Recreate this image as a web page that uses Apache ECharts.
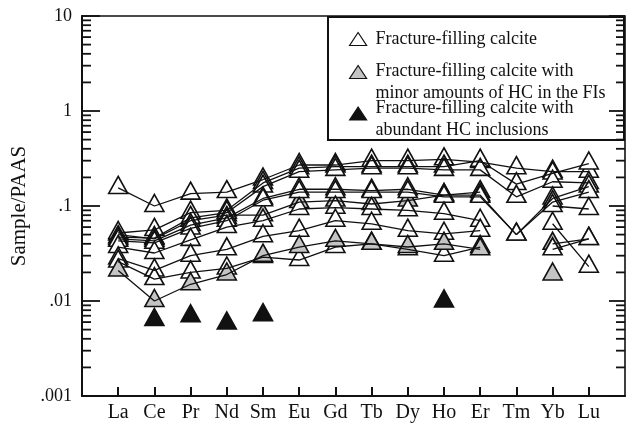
<!DOCTYPE html>
<html><head><meta charset="utf-8">
<script src="https://cdn.jsdelivr.net/npm/echarts@6/dist/echarts.min.js"></script>
<style>html,body{margin:0;padding:0;background:#fff}#c{width:627px;height:423px}</style>
</head><body><div id="c"></div>
<script>
const categories = ['La','Ce','Pr','Nd','Sm','Eu','Gd','Tb','Dy','Ho','Er','Tm','Yb','Lu'];
const yTickValues = [0.001, 0.01, 0.1, 1, 10];
const yTickLabels = ['.001', '.01', '.1', '1', '10'];
const yMinorMultipliers = [2, 3, 4, 5, 6, 7, 8, 9];

const nameWhite = 'Fracture-filling calcite';
const nameGray = 'Fracture-filling calcite with\nminor amounts of HC in the FIs';
const nameBlack = 'Fracture-filling calcite with\nabundant HC inclusions';

// Fracture-filling calcite (white)
const white1 = [0.155, 0.10, 0.135, 0.14, 0.19, 0.27, 0.27, 0.30, 0.30, 0.31, 0.29, 0.25, 0.23, 0.23];
const white2 = [0.052, 0.056, 0.085, 0.09, 0.175, 0.25, 0.26, 0.26, 0.26, 0.26, 0.30, 0.17, 0.22, 0.28];
const white3 = [0.047, 0.046, 0.075, 0.085, 0.16, 0.23, 0.24, 0.25, 0.25, 0.24, 0.24, 0.125, 0.18, 0.175];
const white4 = [0.045, 0.043, 0.063, 0.075, 0.12, 0.15, 0.15, 0.145, 0.15, 0.13, 0.13, 0.05, 0.12, 0.16];
const white5 = [0.043, 0.041, 0.058, 0.07, 0.115, 0.14, 0.14, 0.14, 0.14, 0.125, 0.125, 0.05, 0.11, 0.14];
const white6 = [0.037, 0.032, 0.044, 0.06, 0.07, 0.093, 0.096, 0.093, 0.09, 0.083, 0.07, null, 0.065, 0.023];
const white7 = [0.028, 0.021, 0.03, 0.035, 0.048, 0.055, 0.07, 0.065, 0.055, 0.051, 0.055, null, 0.10, 0.093];
const white8 = [0.026, 0.017, 0.02, 0.022, 0.029, 0.027, 0.037, 0.04, 0.035, 0.030, 0.037, null, 0.035, 0.045];
// with minor amounts of HC (gray)
const gray1 = [0.05, 0.045, 0.07, 0.08, 0.08, 0.11, 0.114, 0.105, 0.114, 0.13, 0.14, null, 0.04, 0.045];
const gray2 = [0.021, 0.01, 0.015, 0.019, 0.03, 0.037, 0.043, 0.040, 0.037, 0.040, 0.035, null, 0.019, null];
// with abundant HC inclusions (black)
const black1 = [null, 0.0063, 0.0069, 0.0058, 0.0071, null, null, null, null, 0.0099, null, null, null, null];

const FONT = 'Liberation Serif';
const INK = '#111';
const GRAY = '#c4c4c4';
const X_MIN = 0, X_MAX = 15;

const xTicks = categories.map((c, i) => i + 1);

function yLabel(v) {
  let best = 0, bd = 1e9;
  yTickValues.forEach((t, i) => { const d = Math.abs(Math.log10(v) - Math.log10(t)); if (d < bd) { bd = d; best = i; } });
  return yTickLabels[best];
}

// drawing order of markers: upper gray under the white ones
const groups = [
  { vals: gray1, name: nameGray, fill: GRAY, line: true },
  { vals: white1, name: nameWhite, fill: '#fff', line: true },
  { vals: white2, name: nameWhite, fill: '#fff', line: true },
  { vals: white3, name: nameWhite, fill: '#fff', line: true },
  { vals: white4, name: nameWhite, fill: '#fff', line: true },
  { vals: white5, name: nameWhite, fill: '#fff', line: true },
  { vals: white6, name: nameWhite, fill: '#fff', line: true },
  { vals: white7, name: nameWhite, fill: '#fff', line: true },
  { vals: white8, name: nameWhite, fill: '#fff', line: true },
  { vals: gray2, name: nameGray, fill: GRAY, line: true },
  { vals: black1, name: nameBlack, fill: INK, line: false }
];

const series = [];
groups.forEach(g => {
  series.push({
    type: 'scatter', name: g.name, z: 2,
    symbol: 'triangle', symbolSize: [19, 17], symbolOffset: [0, -3],
    itemStyle: { color: g.fill, borderColor: INK, borderWidth: 1.6, opacity: 1 },
    data: g.vals.map((v, i) => v == null ? null : [i + 1, v]).filter(Boolean),
    emphasis: { disabled: true }, silent: true
  });
  if (g.line) {
    series.push({
      type: 'line', name: g.name, z: 3, symbol: 'none', connectNulls: false,
      lineStyle: { color: INK, width: 1.3 },
      itemStyle: { color: INK },
      data: g.vals.map((v, i) => [i + 1, v == null ? '-' : v]),
      emphasis: { disabled: true }, silent: true
    });
  }
});

// Y tick marks on both frame sides (inward), placed through the log axis scale
const tickData = [];
yTickValues.forEach(t => {
  tickData.push([X_MIN, t, 18]);
  tickData.push([X_MAX, t, 16]);
  if (t < 10) yMinorMultipliers.forEach(m => {
    const v = +(m * t).toPrecision(3);
    tickData.push([X_MIN, v, 9]);
    tickData.push([X_MAX, v, 9]);
  });
});
series.push({
  type: 'custom', z: 10, silent: true, clip: false,
  encode: { x: 0, y: 1 },
  data: tickData,
  renderItem: function (params, api) {
    const xv = api.value(0), yv = api.value(1), len = api.value(2);
    const p = api.coord([xv, yv]);
    const dir = xv > X_MIN ? -1 : 1;
    return {
      type: 'line',
      shape: { x1: p[0], y1: p[1], x2: p[0] + dir * len, y2: p[1] },
      style: { stroke: INK, lineWidth: 1.8 }
    };
  }
});

function richName(spacer) {
  return function (n) {
    const lines = n.split('\n').map(l => '{t|' + l + '}').join('\n');
    return spacer ? '{s| }\n' + lines : lines;
  };
}
function legendText(spacer) {
  return {
    fontFamily: FONT, fontSize: 18, color: INK, lineHeight: 22,
    rich: {
      t: { fontFamily: FONT, fontSize: 18, color: INK, lineHeight: 22, padding: [0, 0, 0, 4] },
      s: { fontSize: 2, lineHeight: spacer || 1 }
    }
  };
}
const legendBase = {
  orient: 'vertical', left: 349, icon: 'triangle', itemWidth: 17, itemHeight: 13,
  padding: 0, selectedMode: false
};

const option = {
  animation: false,
  backgroundColor: '#fff',
  grid: { left: 82, right: 2, top: 16, bottom: 26, show: true, borderColor: INK, borderWidth: 1.6 },
  xAxis: {
    type: 'value', min: X_MIN, max: X_MAX,
    axisLine: { onZero: false, lineStyle: { color: INK, width: 2 } },
    axisTick: { show: true, inside: true, length: 9, customValues: xTicks, lineStyle: { color: INK, width: 2 } },
    axisLabel: { customValues: xTicks, formatter: v => categories[Math.round(v) - 1] || '', fontFamily: FONT, fontSize: 20, color: INK, margin: 7 },
    splitLine: { show: false }
  },
  yAxis: {
    type: 'log', min: 0.001, max: 10, position: 'left',
    axisLine: { show: true, lineStyle: { color: INK, width: 2 } },
    axisTick: { show: false },
    axisLabel: { show: true, formatter: yLabel, fontFamily: FONT, fontSize: 18, color: INK, margin: 10 },
    splitLine: { show: false },
    name: 'Sample/PAAS', nameLocation: 'middle', nameGap: 52,
    nameTextStyle: { fontFamily: FONT, fontSize: 21, color: INK }
  },
  graphic: [{
    type: 'rect', z: 3, shape: { x: 328, y: 17, width: 296, height: 123 },
    style: { fill: '#fff', stroke: INK, lineWidth: 2 }
  }],
  legend: [
    Object.assign({}, legendBase, { top: 28, formatter: richName(0), textStyle: legendText(0), data: [{ name: nameWhite, itemStyle: { color: '#fff', borderColor: INK, borderWidth: 1.2 } }] }),
    Object.assign({}, legendBase, { top: 40, formatter: richName(20), textStyle: legendText(20), data: [{ name: nameGray, itemStyle: { color: GRAY, borderColor: INK, borderWidth: 1.2 } }] }),
    Object.assign({}, legendBase, { top: 86, formatter: richName(11), textStyle: legendText(11), data: [{ name: nameBlack, itemStyle: { color: INK, borderColor: INK, borderWidth: 1.2 } }] })
  ],
  series: series
};

const chart = echarts.init(document.getElementById('c'));
chart.setOption(option);
</script>
</body></html>
